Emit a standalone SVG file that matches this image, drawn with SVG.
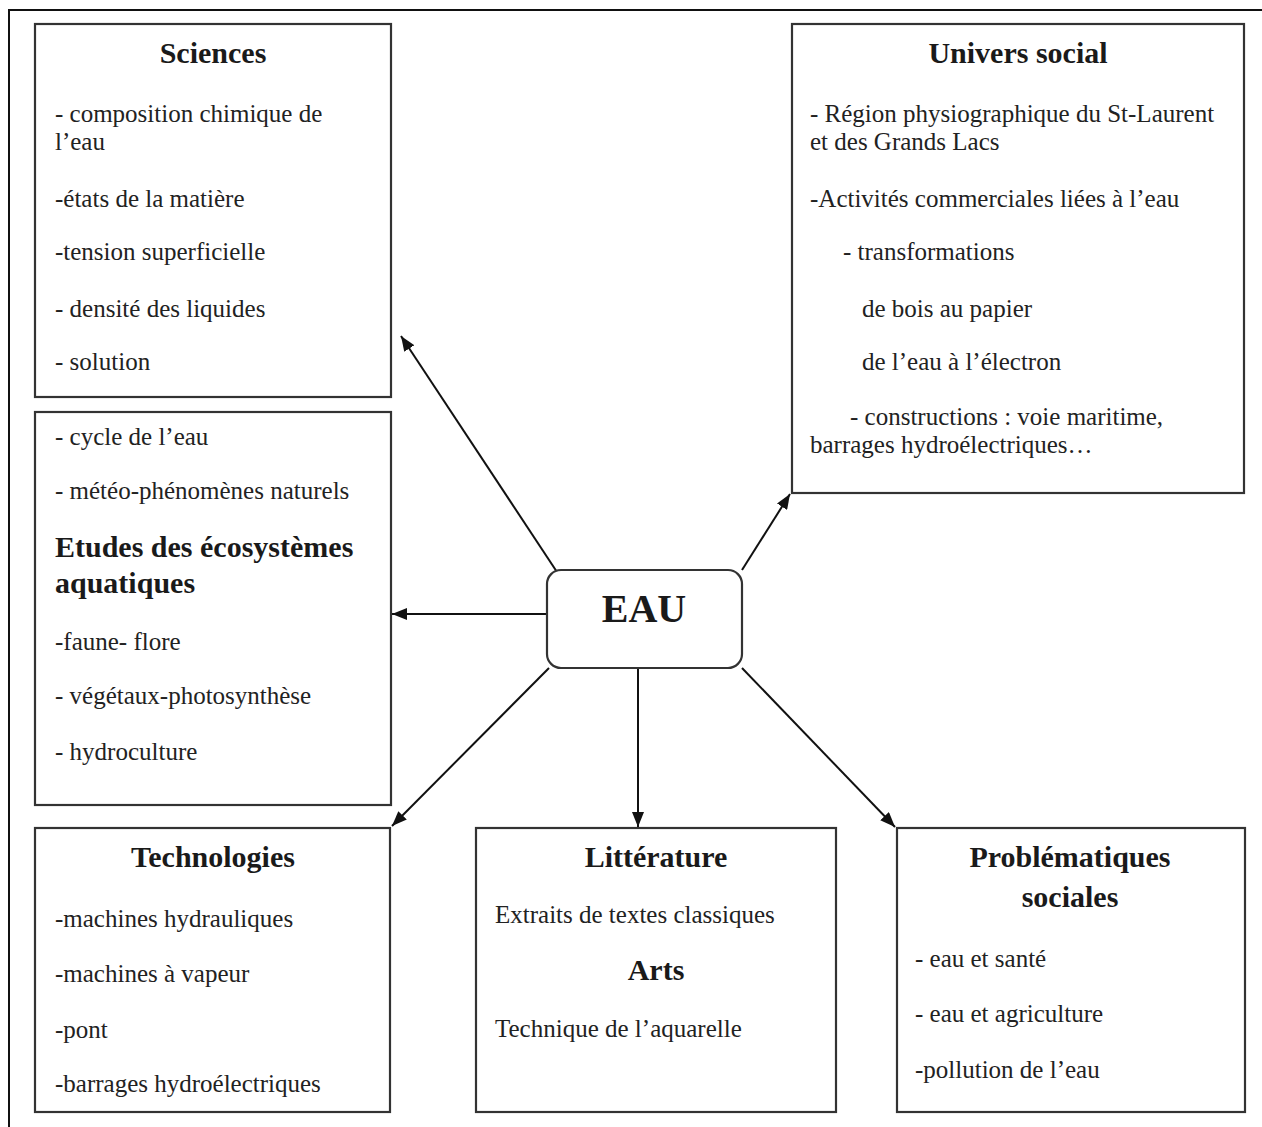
<svg xmlns="http://www.w3.org/2000/svg" width="1262" height="1127" viewBox="0 0 1262 1127">
<defs>
<marker id="ah" markerUnits="userSpaceOnUse" markerWidth="16" markerHeight="12" refX="15" refY="6" orient="auto">
<path d="M0,0 L15,6 L0,12 Z" fill="#111"/>
</marker>
<style>
.box{fill:#fff;stroke:#333;stroke-width:2.2}
.t{font-family:"Liberation Serif","Times New Roman",serif;font-size:25px;fill:#222}
.h{font-family:"Liberation Serif","Times New Roman",serif;font-size:30px;font-weight:bold;fill:#1a1a1a;text-anchor:middle}
.hl{font-family:"Liberation Serif","Times New Roman",serif;font-size:30px;font-weight:bold;fill:#1a1a1a}
.c{stroke:#111;stroke-width:2;fill:none;marker-end:url(#ah)}
</style>
</defs>
<rect width="1262" height="1127" fill="#fff"/>
<g id="frame">
<path d="M9,1127 L9,10 L1262,10" fill="none" stroke="#111" stroke-width="2"/>
</g>
<g id="connectors">
<path class="c" d="M557,572 L401,336"/>
<path class="c" d="M547,614 L392,614"/>
<path class="c" d="M549,668 L392,826"/>
<path class="c" d="M638,668 L638,827"/>
<path class="c" d="M742,668 L895,827"/>
<path class="c" d="M742,570 L790,494"/>
</g>
<g id="sciences">
<rect class="box" x="35" y="24" width="356" height="373"/>
<text class="h" x="213" y="63">Sciences</text>
<text class="t" x="55" y="122">- composition chimique de</text>
<text class="t" x="55" y="150">l’eau</text>
<text class="t" x="55" y="207">-états de la matière</text>
<text class="t" x="55" y="260">-tension superficielle</text>
<text class="t" x="55" y="317">- densité des liquides</text>
<text class="t" x="55" y="370">- solution</text>
</g>
<g id="ecosystemes">
<rect class="box" x="35" y="412" width="356" height="393"/>
<text class="t" x="55" y="445">- cycle de l’eau</text>
<text class="t" x="55" y="499">- météo-phénomènes naturels</text>
<text class="hl" x="55" y="557">Etudes des écosystèmes</text>
<text class="hl" x="55" y="593">aquatiques</text>
<text class="t" x="55" y="650">-faune- flore</text>
<text class="t" x="55" y="704">- végétaux-photosynthèse</text>
<text class="t" x="55" y="760">- hydroculture</text>
</g>
<g id="univers-social">
<rect class="box" x="792" y="24" width="452" height="469"/>
<text class="h" x="1018" y="63">Univers social</text>
<text class="t" x="810" y="122">- Région physiographique du St-Laurent</text>
<text class="t" x="810" y="150">et des Grands Lacs</text>
<text class="t" x="810" y="207">-Activités commerciales liées à l’eau</text>
<text class="t" x="843" y="260">- transformations</text>
<text class="t" x="862" y="317">de bois au papier</text>
<text class="t" x="862" y="370">de l’eau à l’électron</text>
<text class="t" x="850" y="425">- constructions : voie maritime,</text>
<text class="t" x="810" y="453">barrages hydroélectriques…</text>
</g>
<g id="eau">
<rect class="box" x="547" y="570" width="195" height="98" rx="14" ry="14"/>
<text class="h" x="644" y="622" style="font-size:40px">EAU</text>
</g>
<g id="technologies">
<rect class="box" x="35" y="828" width="355" height="284"/>
<text class="h" x="213" y="867">Technologies</text>
<text class="t" x="55" y="927">-machines hydrauliques</text>
<text class="t" x="55" y="982">-machines à vapeur</text>
<text class="t" x="55" y="1038">-pont</text>
<text class="t" x="55" y="1092">-barrages hydroélectriques</text>
</g>
<g id="litterature">
<rect class="box" x="476" y="828" width="360" height="284"/>
<text class="h" x="656" y="867">Littérature</text>
<text class="t" x="495" y="923">Extraits de textes classiques</text>
<text class="h" x="656" y="980">Arts</text>
<text class="t" x="495" y="1037">Technique de l’aquarelle</text>
</g>
<g id="problematiques">
<rect class="box" x="897" y="828" width="348" height="284"/>
<text class="h" x="1070" y="867">Problématiques</text>
<text class="h" x="1070" y="907">sociales</text>
<text class="t" x="915" y="967">- eau et santé</text>
<text class="t" x="915" y="1022">- eau et agriculture</text>
<text class="t" x="915" y="1078">-pollution de l’eau</text>
</g>
</svg>
